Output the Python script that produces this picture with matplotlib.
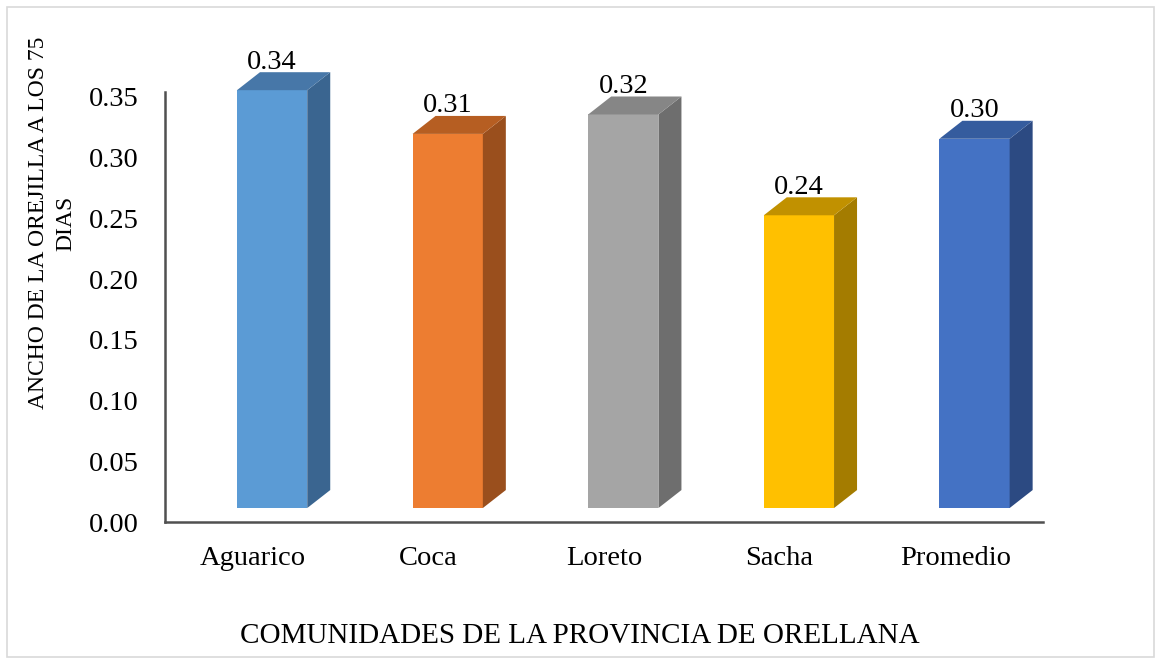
import numpy as np
import matplotlib
matplotlib.use("Agg")
import matplotlib.pyplot as plt
from matplotlib.patches import Polygon, Rectangle

# data
comunidades = ["Aguarico", "Coca", "Loreto", "Sacha", "Promedio"]
ancho = [0.344, 0.308, 0.324, 0.241, 0.304]
yticks = [0.00, 0.05, 0.10, 0.15, 0.20, 0.25, 0.30, 0.35]

# front / side / top colours for the fake 3D bars
c_front = ["#5B9BD5", "#ED7D31", "#A5A5A5", "#FFC000", "#4472C4"]
c_side = ["#3A6590", "#9A4F1D", "#6E6E6E", "#A47C00", "#2C4A82"]
c_top = ["#4777A8", "#B65E22", "#868686", "#C19100", "#355C9E"]

plt.rcParams["font.family"] = ["Liberation Serif", "DejaVu Serif"]

fig = plt.figure(figsize=(11.61, 6.64), dpi=100)
ax = fig.add_axes([165/1161, 1-522/664, (1043-165)/1161, (522-92)/664])

base = 0.0115   # bars sit a little behind the floor edge
x0 = 0.41       # front face offset inside each slot
w = 0.40        # front face width
ddx = 0.131     # depth in x units
ddy = 0.0148    # depth in value units

for i, v in enumerate(ancho):
    xl = i + x0
    xr = xl + w
    top = base + v
    ax.bar(xl, v, width=w, bottom=base, align="edge", color=c_front[i],
           edgecolor="none", clip_on=False, zorder=3)
    side = Polygon([(xr, base), (xr+ddx, base+ddy), (xr+ddx, top+ddy), (xr, top)],
                   closed=True, facecolor=c_side[i], edgecolor="none", clip_on=False, zorder=3)
    cap = Polygon([(xl, top), (xl+ddx, top+ddy), (xr+ddx, top+ddy), (xr, top)],
                  closed=True, facecolor=c_top[i], edgecolor="none", clip_on=False, zorder=3)
    ax.add_patch(side)
    ax.add_patch(cap)
    ax.text(xl + w/2, top + 0.023, f"{v:.2f}", ha="center", va="center",
            fontsize=20.5, color="black", zorder=4)

ax.set_xlim(0, len(comunidades))
ax.set_ylim(0, 0.354)
ax.set_yticks(yticks)
ax.set_yticklabels([f"{t:.2f}" for t in yticks], fontsize=20.5)
ax.set_xticks(np.arange(len(comunidades)) + 0.5)
ax.set_xticklabels(comunidades, fontsize=20.5)
ax.tick_params(axis="y", length=0, pad=19)
ax.tick_params(axis="x", length=0, pad=17)

for s in ["top", "right"]:
    ax.spines[s].set_visible(False)
for s in ["left", "bottom"]:
    ax.spines[s].set_color("#505050")
    ax.spines[s].set_linewidth(1.8)

fig.text(52/1161, 1-223/664, "ANCHO DE LA OREJILLA A LOS 75\nDIAS", rotation=90,
         ha="center", va="center", multialignment="center", fontsize=17,
         linespacing=1.4)
fig.text(580/1161, 1-636/664, "COMUNIDADES DE LA PROVINCIA DE ORELLANA",
         ha="center", va="center", fontsize=21)

# light frame around the chart area
fig.patches.append(Rectangle((7/1161, 7/664), 1147/1161, 650/664, transform=fig.transFigure,
                             fill=False, edgecolor="#D9D9D9", linewidth=1.2))

fig.savefig("out.png", dpi=100)
